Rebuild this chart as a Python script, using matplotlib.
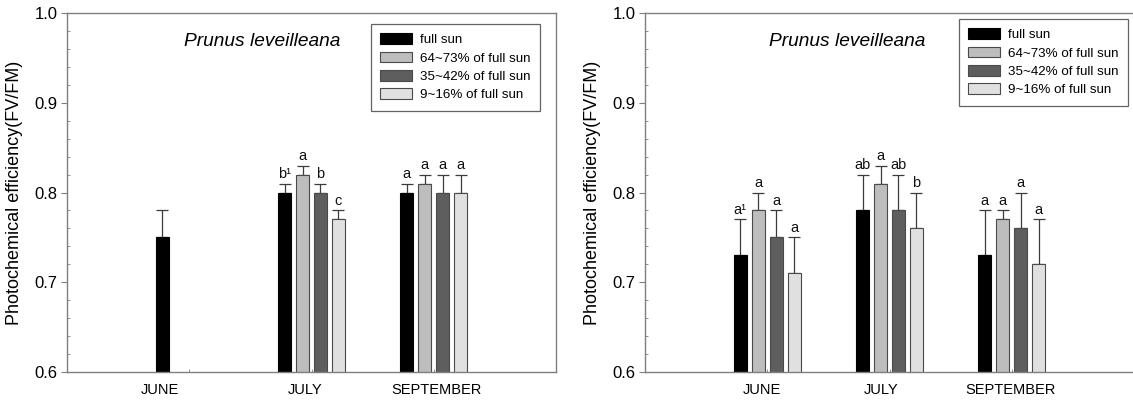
import matplotlib.pyplot as plt
import numpy as np

plt.rcParams['font.family'] = ['Liberation Sans', 'DejaVu Sans']

# data
months = ['JUNE', 'JULY', 'SEPTEMBER']
series = ['full sun', '64~73% of full sun', '35~42% of full sun', '9~16% of full sun']
colors = ['#000000', '#bdbdbd', '#5e5e5e', '#e0e0e0']

# left panel (rows = series, cols = months)
left_mean = [[0.75, 0.80, 0.80],
             [np.nan, 0.82, 0.81],
             [np.nan, 0.80, 0.80],
             [np.nan, 0.77, 0.80]]
left_err = [[0.03, 0.01, 0.01],
            [np.nan, 0.01, 0.01],
            [np.nan, 0.01, 0.02],
            [np.nan, 0.01, 0.02]]
left_letters = [['', 'b¹', 'a'],
                ['', 'a', 'a'],
                ['', 'b', 'a'],
                ['', 'c', 'a']]

# right panel
right_mean = [[0.73, 0.78, 0.73],
              [0.78, 0.81, 0.77],
              [0.75, 0.78, 0.76],
              [0.71, 0.76, 0.72]]
right_err = [[0.04, 0.04, 0.05],
             [0.02, 0.02, 0.01],
             [0.03, 0.04, 0.04],
             [0.04, 0.04, 0.05]]
right_letters = [['a¹', 'ab', 'a'],
                 ['a', 'a', 'a'],
                 ['a', 'ab', 'a'],
                 ['a', 'b', 'a']]

title = 'Prunus leveilleana'
ylabel = 'Photochemical efficiency(FV/FM)'

spine_col = '#7f7f7f'
pitch = 0.147
width = 0.108


def panel(ax, mean, err, letters, label_pos, leg_anchor, title_x):
    mean = np.array(mean, dtype=float)
    err = np.array(err, dtype=float)
    groups = np.arange(len(months))
    handles = []
    for i in range(len(series)):
        x = groups + (i - 1.5) * pitch
        ok = ~np.isnan(mean[i])
        ec = '#000000' if i == 0 else '#4a4a4a'
        b = ax.bar(x[ok], mean[i][ok], width, color=colors[i], edgecolor=ec,
                   linewidth=0.8, zorder=2)
        handles.append(b)
        ax.errorbar(x[ok], mean[i][ok], yerr=[np.zeros(ok.sum()), err[i][ok]],
                    fmt='none', ecolor='#3c3c3c', elinewidth=0.9, capsize=4.6,
                    capthick=0.9, zorder=1)
        for j in np.where(ok)[0]:
            if letters[i][j]:
                ax.text(x[j], mean[i][j] + err[i][j] + 0.003, letters[i][j],
                        ha='center', va='bottom', fontsize=10.5, color='#111111')
    ax.set_xlim(-1, 3)
    ax.set_ylim(0.6, 1.0)
    ax.set_yticks(np.arange(0.6, 1.01, 0.1))
    ax.set_yticks(np.arange(0.6, 1.0, 0.02), minor=True)
    ax.set_yticklabels(['%.1f' % v for v in np.arange(0.6, 1.01, 0.1)])
    ax.set_xticks(label_pos)
    ax.set_xticklabels(months)
    ax.set_xticks(groups, minor=True)
    ax.tick_params(axis='x', which='major', length=0, labelsize=10.5, pad=8)
    ax.tick_params(axis='x', which='minor', length=2.5, direction='in', color=spine_col)
    ax.tick_params(axis='y', which='major', length=4, direction='out', color=spine_col,
                   labelsize=12, pad=3)
    ax.tick_params(axis='y', which='minor', length=2.5, direction='in', color=spine_col)
    for s in ax.spines.values():
        s.set_color(spine_col)
        s.set_linewidth(1.0)
    ax.set_ylabel(ylabel, fontsize=13, labelpad=8)
    ax.text(title_x, 0.92, title, transform=ax.transAxes, ha='center', va='center',
            fontsize=13.8, style='italic')
    leg = ax.legend(handles, series, loc='upper right', bbox_to_anchor=leg_anchor,
                    fontsize=9.6, frameon=True, fancybox=False, edgecolor='#3c3c3c',
                    handlelength=2.4, handleheight=0.85, labelspacing=0.4,
                    handletextpad=0.6, borderpad=0.7, borderaxespad=0)
    leg.get_frame().set_linewidth(0.9)


fig = plt.figure(figsize=(11.33, 4), dpi=100)
ax1 = fig.add_axes([67 / 1133, 28 / 400, 489 / 1133, 359 / 400])
ax2 = fig.add_axes([645 / 1133, 28 / 400, 499 / 1133, 359 / 400])

panel(ax1, left_mean, left_err, left_letters, [-0.24, 0.95, 2.02], (0.967, 0.969), 0.40)
panel(ax2, right_mean, right_err, right_letters, [-0.04, 0.93, 1.99], (0.968, 0.983), 0.405)
# keep the same data scale on the wider, cropped right panel
ax2.set_xlim(-1, -1 + 4 * 499 / 489)

fig.savefig('out.png', dpi=100)
